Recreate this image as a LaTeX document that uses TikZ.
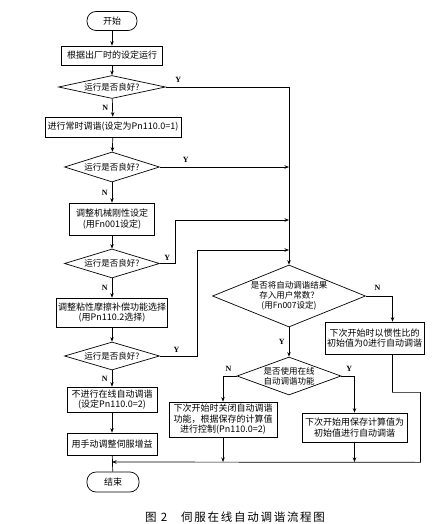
\documentclass[tikz,border=0pt]{standalone}
\usepackage{fontspec}
\setmainfont{Noto Sans CJK SC}
\newfontfamily\ynfont{Liberation Serif}
\newfontfamily\capfont[LetterSpace=15]{Noto Sans CJK SC}
\usetikzlibrary{arrows.meta,positioning,shapes.geometric}

\begin{document}
\begin{tikzpicture}[x=1pt, y=-1pt, line width=0.7pt,
  every node/.style={font=\fontsize{9}{10.5}\selectfont},
  termbox/.style={draw, rectangle, rounded corners=9pt, minimum width=50pt, minimum height=19pt},
  procbox/.style={draw, rectangle, align=center, inner sep=1.5pt},
  decide/.style={draw, diamond, align=center, inner sep=0pt, font=\fontsize{8.5}{10}\selectfont},
  flow/.style={-{Stealth[length=4.5pt,width=3.5pt]}},
  yn/.style={font=\ynfont\bfseries\fontsize{8}{8}\selectfont, inner sep=0pt}]
\useasboundingbox (0,0) rectangle (437,524);

% main column
\node (start) [termbox] at (112,21) {开始};
\node (setrun) [procbox, minimum width=101pt, minimum height=19pt] at (112,55.5) {根据出厂时的设定运行};
\node (good1) [decide, aspect=4.65, minimum width=107pt, minimum height=23pt] at (112,87) {运行是否良好?};
\node (normal) [procbox, minimum width=136pt, minimum height=20pt] at (113,127) {进行常时调谐(设定为Pn110.0=1)};
\node (good2) [decide, aspect=3.17, minimum width=95pt, minimum height=30pt] at (112,167) {运行是否良好?};
\node (rigid) [procbox, minimum width=85pt, minimum height=32pt] at (112,219) {调整机械刚性设定\\(用Fn001设定)};
\node (good3) [decide, aspect=3.3, minimum width=95pt, minimum height=29pt] at (112,263.5) {运行是否良好?};
\node (visc) [procbox, minimum width=110pt, minimum height=29pt] at (112,312.5) {调整粘性摩擦补偿功能选择\\(用Pn110.2选择)};
\node (good4) [decide, aspect=3.4, minimum width=95pt, minimum height=28pt] at (112,356) {运行是否良好?};
\node (noauto) [procbox, minimum width=90pt, minimum height=25pt] at (112,399.5) {不进行在线自动调谐\\(设定Pn110.0=2)};
\node (manual) [procbox, minimum width=90pt, minimum height=22pt] at (112,444) {用手动调整伺服增益};
\node (finish) [termbox, minimum width=52pt, minimum height=20pt] at (113,482) {结束};

% right part
\node (store) [decide, aspect=2.47, minimum width=153pt, minimum height=62pt] at (289,296) {是否将自动调谐结果\\存入用户常数？\\(用Fn007设定)};
\node (inertia) [procbox, minimum width=99pt, minimum height=32pt] at (374.5,338) {下次开始时以惯性比的\\初始值为0进行自动调谐};
\node (online) [decide, aspect=2.74, minimum width=104pt, minimum height=38pt] at (289,376) {是否使用在线\\自动调谐功能};
\node (tuneoff) [procbox, minimum width=108pt, minimum height=35pt] at (223,419.5) {下次开始时关闭自动调谐\\功能，根据保存的计算值\\进行控制(Pn110.0=2)};
\node (reuse) [procbox, minimum width=105pt, minimum height=29pt] at (354.5,427.5) {下次开始用保存计算值为\\初始值进行自动调谐};

\node (caption) [font=\capfont\fontsize{11.5}{12}\selectfont] at (235,517) {图 2\hspace{14pt}伺服在线自动调谐流程图};

\coordinate (bus) at (289,87);
\coordinate (in2) at (289,167);
\coordinate (in3) at (289,220);
\coordinate (in4) at (289,250);
\coordinate (join) at (112,462);

% connectors
\draw[flow] (start) -- (setrun);
\draw[flow] (setrun) -- (good1);
\draw[flow] (good1) -- node[yn, left=4pt]{N} (normal);
\draw (good1.east) -- node[yn, above=4pt, pos=0.1]{Y} (bus);
\draw[flow] (bus) -- (store.north);
\draw[flow] (normal) -- (good2);
\draw[flow] (good2.east) -- node[yn, above=4pt, pos=0.2]{Y} (in2);
\draw[flow] (good2) -- node[yn, left=4pt]{N} (rigid);
\draw[flow] (rigid) -- (good3);
\draw[flow] (good3.east) -- node[yn, above=3pt]{Y} ++(15,0) |- (in3);
\draw[flow] (good3) -- node[yn, left=4pt]{N} (visc);
\draw[flow] (visc) -- (good4);
\draw[flow] (good4.east) -- node[yn, above=3pt, pos=0.45]{Y} ++(37,0) |- (in4);
\draw[flow] (good4) -- node[yn, left=4pt]{N} (noauto);
\draw[flow] (noauto) -- (manual);
\draw (manual) -- (finish);

\draw[flow] (store.east) -| node[yn, above=5pt, pos=0.22]{N} ([xshift=18pt]inertia.north);
\draw[flow] (store.south) -- node[yn, left=4pt]{Y} (online.north);
\draw[flow] (online.west) -| node[yn, above=4pt, pos=0.3]{N} (tuneoff.north);
\draw[flow] (online.east) -| node[yn, above=4pt, pos=0.3]{Y} (reuse.north);
\draw[flow] (tuneoff) -- (tuneoff.south |- join);
\draw[flow] (reuse) -- (reuse.south |- join);
\draw[flow] ([xshift=18pt]inertia.south) -- ++(0,38) -| ++(28,70) -- (join);
\end{tikzpicture}
\end{document}
